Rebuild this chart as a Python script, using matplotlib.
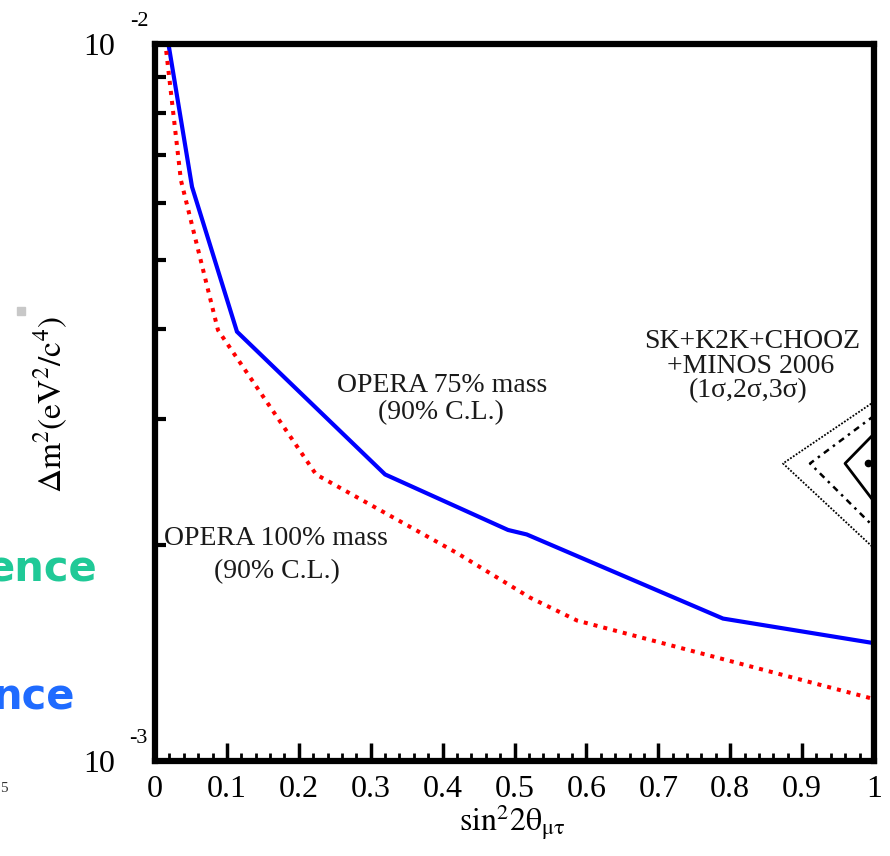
import numpy as np
import matplotlib
matplotlib.use('Agg')
import matplotlib.pyplot as plt
from matplotlib.ticker import NullFormatter

# OPERA sensitivity curves
opera75_x = [0.018, 0.0515, 0.114, 0.320, 0.491, 0.517, 0.790, 1.0]
opera75_y = [0.0101, 6.32e-3, 3.97e-3, 2.51e-3, 2.10e-3, 2.07e-3, 1.58e-3, 1.46e-3]

opera100_x = [0.014, 0.036, 0.0876, 0.224, 0.420, 0.5216, 0.587, 1.0]
opera100_y = [0.0101, 6.46e-3, 3.99e-3, 2.51e-3, 1.95e-3, 1.69e-3, 1.57e-3, 1.22e-3]

# SK+K2K+CHOOZ+MINOS allowed regions (only the tip is inside the frame)
sigma3_x = [1.0, 0.8734, 1.0]
sigma3_y = [3.17e-3, 2.60e-3, 1.98e-3]
sigma2_x = [1.0, 0.911, 1.0]
sigma2_y = [3.03e-3, 2.60e-3, 2.12e-3]
sigma1_x = [1.0, 0.9597, 1.0]
sigma1_y = [2.86e-3, 2.60e-3, 2.30e-3]
best_fit = (0.9917, 2.60e-3)

x_ticks = [0.0, 0.1, 0.2, 0.3, 0.4, 0.5, 0.6, 0.7, 0.8, 0.9, 1.0]
x_ticklabels = ['0', '0.1', '0.2', '0.3', '0.4', '0.5', '0.6', '0.7', '0.8', '0.9', '1']
y_minor = [2e-3, 3e-3, 4e-3, 5e-3, 6e-3, 7e-3, 8e-3, 9e-3]

plt.rcParams['font.family'] = ['Liberation Serif', 'DejaVu Serif']
plt.rcParams['mathtext.fontset'] = 'stix'

W, H = 890, 856
fig = plt.figure(figsize=(W / 100, H / 100), dpi=100)
ax = fig.add_axes([155 / W, (H - 761) / H, 719 / W, 717 / H])

ax.plot(opera75_x, opera75_y, color='#0000ff', lw=3, solid_joinstyle='miter')
ax.plot(opera100_x, opera100_y, color='#ff0000', lw=2.9, linestyle=(0, (1, 1.5)))

ax.plot(sigma3_x, sigma3_y, color='black', lw=1.3, linestyle=(0, (1, 0.9)))
ax.plot(sigma2_x, sigma2_y, color='black', lw=1.8, linestyle=(0, (2.5, 2, 1, 2)))
ax.plot(sigma1_x, sigma1_y, color='black', lw=2.0)
ax.plot([best_fit[0]], [best_fit[1]], 'o', color='black', ms=4.5)

ax.set_yscale('log')
ax.set_xlim(0, 1)
ax.set_ylim(1e-3, 1e-2)

for s in ax.spines.values():
    s.set_linewidth(4.5)

ax.set_xticks(x_ticks)
ax.set_xticklabels(x_ticklabels)
ax.set_xticks(np.arange(0, 1.001, 0.02), minor=True)
ax.tick_params(axis='x', which='major', direction='in', length=13, width=2.5,
               top=False, labelsize=23, pad=10)
ax.tick_params(axis='x', which='minor', direction='in', length=6, width=2, top=False)

ax.set_yticks([1e-3, 1e-2])
ax.set_yticklabels(['10', '10'])
ax.set_yticks(y_minor, minor=True)
ax.yaxis.set_minor_formatter(NullFormatter())
ax.tick_params(axis='y', which='major', length=0, labelsize=23, pad=29, right=False)
ax.tick_params(axis='y', which='minor', direction='in', length=8, width=3, right=False)

# exponents of the y tick labels
ax.annotate('-2', xy=(0, 1), xycoords='axes fraction', xytext=(-11.5, 16.5),
            textcoords='offset points', ha='center', va='center', fontsize=16)
ax.annotate('-3', xy=(0, 0), xycoords='axes fraction', xytext=(-12.2, 16.5),
            textcoords='offset points', ha='center', va='center', fontsize=16)

fig.text(512 / W, 1 - 822 / H, r'$\mathrm{sin}^2 2\mathrm{\theta}_{\mathrm{\mu\tau}}$',
         ha='center', va='center', fontsize=23)
fig.text(51 / W, 1 - 405 / H, r'$\Delta\mathrm{m}^2\mathrm{(eV}^2\mathrm{/c}^4\mathrm{)}$',
         ha='center', va='center', rotation=90, fontsize=24)

txt = '#1a1a1a'
fs = 20
ax.text(0.399, 0.5146, 'OPERA 75% mass', transform=ax.transAxes, ha='center',
        va='baseline', fontsize=fs, color=txt)
ax.text(0.398, 0.477, '(90% C.L.)', transform=ax.transAxes, ha='center',
        va='baseline', fontsize=fs, color=txt)
ax.text(0.168, 0.3013, 'OPERA 100% mass', transform=ax.transAxes, ha='center',
        va='baseline', fontsize=fs, color=txt)
ax.text(0.170, 0.2552, '(90% C.L.)', transform=ax.transAxes, ha='center',
        va='baseline', fontsize=fs, color=txt)
ax.text(0.830, 0.576, 'SK+K2K+CHOOZ', transform=ax.transAxes, ha='center',
        va='baseline', fontsize=fs, color=txt)
ax.text(0.829, 0.541, '+MINOS 2006', transform=ax.transAxes, ha='center',
        va='baseline', fontsize=fs, color=txt)
ax.text(0.825, 0.508, '(1σ,2σ,3σ)', transform=ax.transAxes, ha='center',
        va='baseline', fontsize=fs, color=txt)

# bits of the slide that show at the left edge
fig.text(97 / W, 1 - 582 / H, 'ence', ha='right', va='baseline', fontsize=30,
         fontweight='bold', color='#20c997', family='DejaVu Sans')
fig.text(75 / W, 1 - 710 / H, 'nce', ha='right', va='baseline', fontsize=30,
         fontweight='bold', color='#1f6bff', family='DejaVu Sans')
fig.text(8 / W, 1 - 792 / H, '5', ha='right', va='baseline', fontsize=11, color='#333333')
fig.patches.append(plt.Rectangle((17 / W, 1 - 315 / H), 8 / W, 8 / H,
                                 transform=fig.transFigure, color='#c8c8c8'))

fig.savefig('out.png', dpi=100, facecolor='w')
